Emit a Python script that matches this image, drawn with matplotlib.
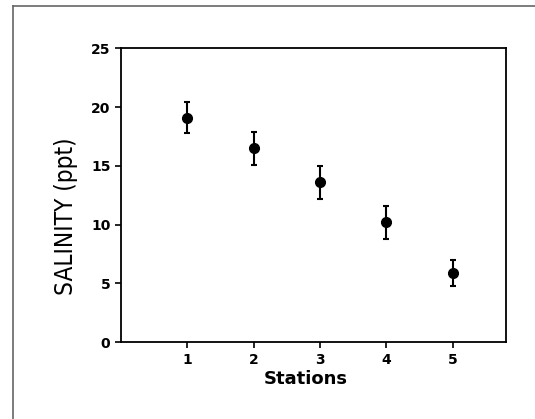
import numpy as np
import matplotlib.pyplot as plt
from matplotlib.lines import Line2D

# donnees
stations = [1, 2, 3, 4, 5]
salinite = [19.1, 16.5, 13.6, 10.2, 5.9]
erreur = [1.3, 1.4, 1.4, 1.4, 1.1]

fig = plt.figure(figsize=(5.35, 4.19), dpi=100)
ax = fig.add_axes([0.226, 0.183, 0.719, 0.702])

ax.errorbar(stations, salinite, yerr=erreur, fmt="o", color="black",
            markersize=7, capsize=2.5, elinewidth=1.5, capthick=1.5)

ax.set_xlim(0, 5.8)
ax.set_ylim(0, 25)
ax.set_xticks(stations)
ax.set_yticks([0, 5, 10, 15, 20, 25])
ax.tick_params(direction="out", length=4, width=1.2, top=False, right=False)
for lab in ax.get_xticklabels() + ax.get_yticklabels():
    lab.set_fontweight("bold")
    lab.set_fontsize(10)
for s in ax.spines.values():
    s.set_linewidth(1.3)

ax.set_xlabel("Stations", fontsize=13, fontweight="bold", labelpad=2)
ax.xaxis.set_label_coords(0.48, -0.095)
ax.set_ylabel("SALINITY (ppt)", fontsize=17.5, fontstretch="condensed")
ax.yaxis.set_label_coords(-0.112, 0.43)

# cadre exterieur (bord du scan)
fig.add_artist(Line2D([13/535, 1], [1 - 6/419, 1 - 6/419], color="#666666", lw=1.2))
fig.add_artist(Line2D([13/535, 13/535], [0, 1 - 6/419], color="#666666", lw=1.2))

fig.savefig("out.png", dpi=100)
